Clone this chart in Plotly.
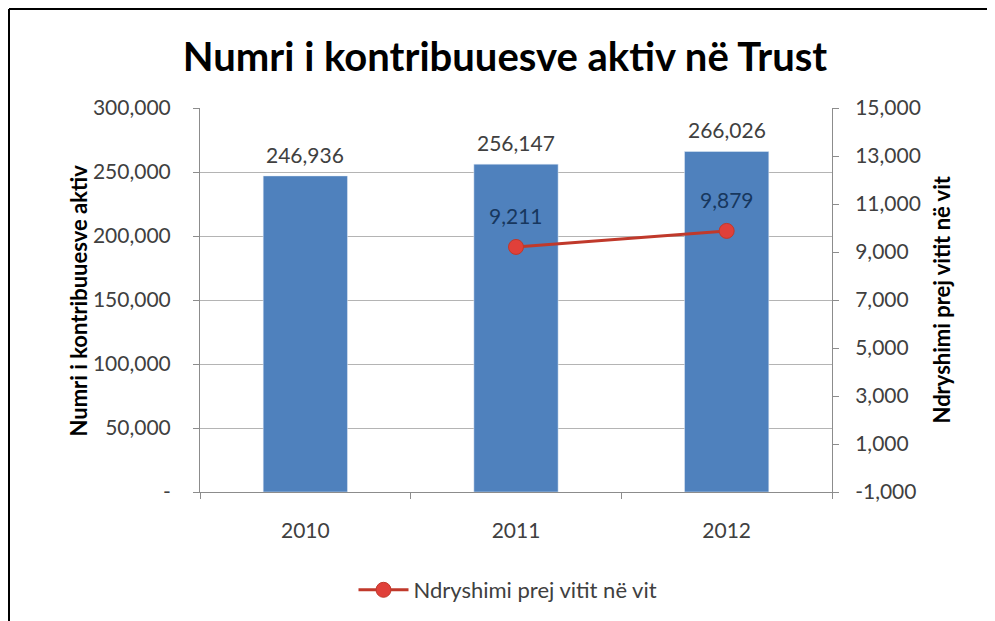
import plotly.graph_objects as go

years = ["2010", "2011", "2012"]
contributors = [246936, 256147, 266026]
change_years = ["2011", "2012"]
change_values = [9211, 9879]

left_ticks = [0, 50000, 100000, 150000, 200000, 250000, 300000]
left_ticktext = ["-", "50,000", "100,000", "150,000", "200,000", "250,000", "300,000"]
right_ticks = [-1000, 1000, 3000, 5000, 7000, 9000, 11000, 13000, 15000]
right_ticktext = ["-1,000", "1,000", "3,000", "5,000", "7,000", "9,000", "11,000", "13,000", "15,000"]

FONT = "Lato"
OFF = 8  # page body margin
W, H = 995 - OFF, 621 - OFF
ML, MT = 200 - OFF, 108 - OFF
MR, MB = 163, 129
PW, PH = W - ML - MR, H - MT - MB

def px2x(p):  # page pixel -> paper
    return (p - OFF - ML) / PW

def px2y(p):
    return (H - MB - (p - OFF)) / PH

fig = go.Figure()
fig.add_trace(go.Bar(
    x=years, y=contributors, marker_color="#4f81bd", width=0.4,
    showlegend=False, name="Numri i kontribuuesve aktiv"))
fig.add_trace(go.Scatter(
    x=change_years, y=change_values, yaxis="y2", mode="lines+markers",
    line=dict(color="#c0392b", width=3),
    marker=dict(symbol="circle", size=15, color="#e0403a", line=dict(color="#c0392b", width=1)),
    cliponaxis=False, name="Ndryshimi prej vitit në vit"))

annotations = []
for x, v in zip(years, contributors):
    annotations.append(dict(x=years.index(x), y=v, xref="x", yref="y", text=f"{v:,}",
                            showarrow=False, yanchor="bottom", yshift=7,
                            font=dict(size=21, color="#404040", family=FONT)))
for x, v in zip(change_years, change_values):
    annotations.append(dict(x=years.index(x), y=v, xref="x", yref="y2", text=f"{v:,}",
                            showarrow=False, yanchor="bottom", yshift=17,
                            font=dict(size=21, color="#17375e", family=FONT)))
annotations += [
    dict(text="<b>Numri i kontribuuesve aktiv</b>", xref="paper", yref="paper",
         x=px2x(62), y=px2y(301), textangle=-90, showarrow=False,
         font=dict(size=22, color="black", family=FONT)),
    dict(text="<b>Ndryshimi prej vitit në vit</b>", xref="paper", yref="paper",
         x=px2x(956), y=px2y(300), textangle=-90, showarrow=False,
         font=dict(size=22, color="black", family=FONT)),
]

fig.update_layout(
    width=W, height=H, margin=dict(l=ML, r=MR, t=MT, b=MB, autoexpand=False),
    paper_bgcolor="white", plot_bgcolor="white",
    font=dict(family=FONT, color="#404040"),
    title=dict(text="<b>Numri i kontribuuesve aktiv në Trust</b>", x=px2x(505), xref="paper",
               xanchor="center", y=1 - (57 - OFF) / H, yanchor="middle",
               font=dict(size=40, color="black", family=FONT)),
    xaxis=dict(type="category", categoryorder="array", categoryarray=years,
               range=[-0.5, len(years) - 0.5],
               showgrid=False, showline=True, linecolor="#8c8c8c", linewidth=1,
               ticks="outside", tickson="boundaries", ticklen=6, tickcolor="#8c8c8c",
               ticklabelstandoff=20, tickangle=0,
               tickfont=dict(size=21, color="#404040"), automargin=False),
    yaxis=dict(range=[0, 300000], tickvals=left_ticks, ticktext=left_ticktext,
               showgrid=True, gridcolor="#b4b4b4", gridwidth=1, showline=True,
               linecolor="#8c8c8c", ticks="outside", ticklen=6, tickcolor="#8c8c8c",
               ticklabelstandoff=18,
               tickfont=dict(size=21, color="#404040"), zeroline=False, automargin=False),
    yaxis2=dict(range=[-1000, 15000], tickvals=right_ticks, ticktext=right_ticktext,
                overlaying="y", side="right", showgrid=False, showline=True,
                linecolor="#8c8c8c", ticks="outside", ticklen=6, tickcolor="#8c8c8c",
                ticklabelstandoff=12,
                tickfont=dict(size=21, color="#404040"), zeroline=False, automargin=False),
    legend=dict(orientation="h", x=px2x(508), xanchor="center", y=px2y(590), yanchor="middle",
                font=dict(size=22, color="#404040"), itemwidth=50),
    bargap=0.6,
    annotations=annotations,
    shapes=[
        dict(type="line", xref="paper", yref="paper", x0=px2x(9), x1=px2x(1010),
             y0=px2y(9), y1=px2y(9), line=dict(color="black", width=2)),
        dict(type="line", xref="paper", yref="paper", x0=px2x(9), x1=px2x(9),
             y0=px2y(9), y1=px2y(640), line=dict(color="black", width=2)),
    ],
)

fig.write_html("out.html")
